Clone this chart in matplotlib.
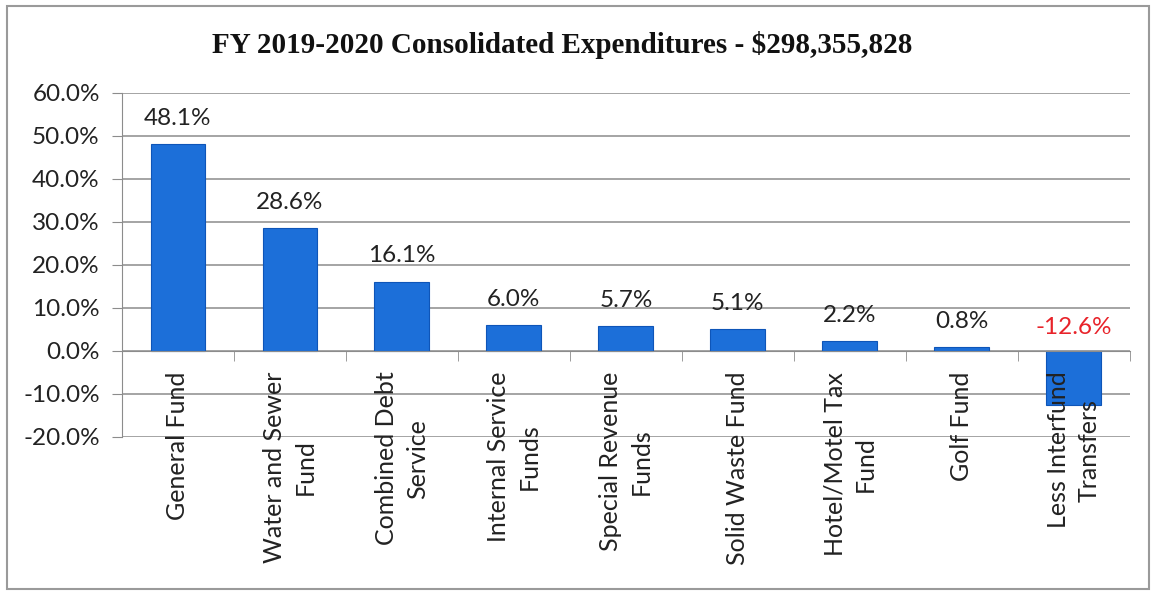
import numpy as np
import matplotlib.pyplot as plt
from matplotlib.patches import Rectangle

# Fund names and share of consolidated expenditures (%)
funds = ["General Fund", "Water and Sewer\nFund", "Combined Debt\nService",
         "Internal Service\nFunds", "Special Revenue\nFunds", "Solid Waste Fund",
         "Hotel/Motel Tax\nFund", "Golf Fund", "Less Interfund\nTransfers"]
shares = [48.1, 28.6, 16.1, 6.0, 5.7, 5.1, 2.2, 0.8, -12.6]
yticks = np.arange(-20, 61, 10)

plt.rcParams['font.family'] = ['Lato', 'DejaVu Sans']

fig = plt.figure(figsize=(11.54, 5.92), dpi=100)
ax = fig.add_axes([0.1057, 0.262, 0.8733, 0.581])

x = np.arange(len(funds))
ax.bar(x, shares, width=0.49, color='#1c6fd9', edgecolor='#0e55b8', linewidth=0.8, zorder=1)

# horizontal gridlines behind the bars, axis labels stay on top
for t in yticks:
    ax.axhline(t, color='#8c8c8c', linewidth=1.1, zorder=0)

# value labels, negative values in red above the zero line
for xi, v in zip(x, shares):
    if v >= 0:
        ax.annotate(f"{v:.1f}%", (xi, v), xytext=(0, 11), textcoords='offset points',
                    ha='center', va='bottom', fontsize=17.5, color='#222222')
    else:
        ax.annotate(f"{v:.1f}%", (xi, 0), xytext=(0, 9), textcoords='offset points',
                    ha='center', va='bottom', fontsize=17.5, color='#e8232a')

ax.set_xlim(-0.5, len(funds) - 0.5)
ax.set_ylim(-20, 60)
ax.set_yticks(yticks)
ax.set_yticklabels([f"{t:.1f}%" for t in yticks], fontsize=17.5, color='#222222')
ax.tick_params(axis='y', length=7, color='#8c8c8c', pad=9)

# category axis sits on the zero line, ticks between the bars
ax.spines['bottom'].set_position(('data', 0))
ax.spines['bottom'].set_color('#8c8c8c')
ax.spines['left'].set_color('#8c8c8c')
ax.spines['top'].set_visible(False)
ax.spines['right'].set_visible(False)
ax.set_xticks(x)
ax.set_xticklabels(funds, rotation=90, fontsize=18, ha='center', va='top',
                   multialignment='center', color='#222222', linespacing=1.4)
ax.tick_params(axis='x', which='major', length=0, pad=15)
ax.set_xticks(np.arange(0.5, len(funds), 1), minor=True)
ax.tick_params(axis='x', which='minor', length=7, direction='out', color='#8c8c8c')

fig.text(0.487, 0.924, "FY 2019-2020 Consolidated Expenditures - $298,355,828",
         family='Liberation Serif', fontweight='bold', fontsize=21,
         ha='center', va='center', color='#111111')

# chart frame
fig.patches.append(Rectangle((0.006, 0.005), 0.99, 0.985, transform=fig.transFigure,
                             fill=False, edgecolor='#9a9a9a', linewidth=1.5))

fig.savefig("out.png", dpi=100)
